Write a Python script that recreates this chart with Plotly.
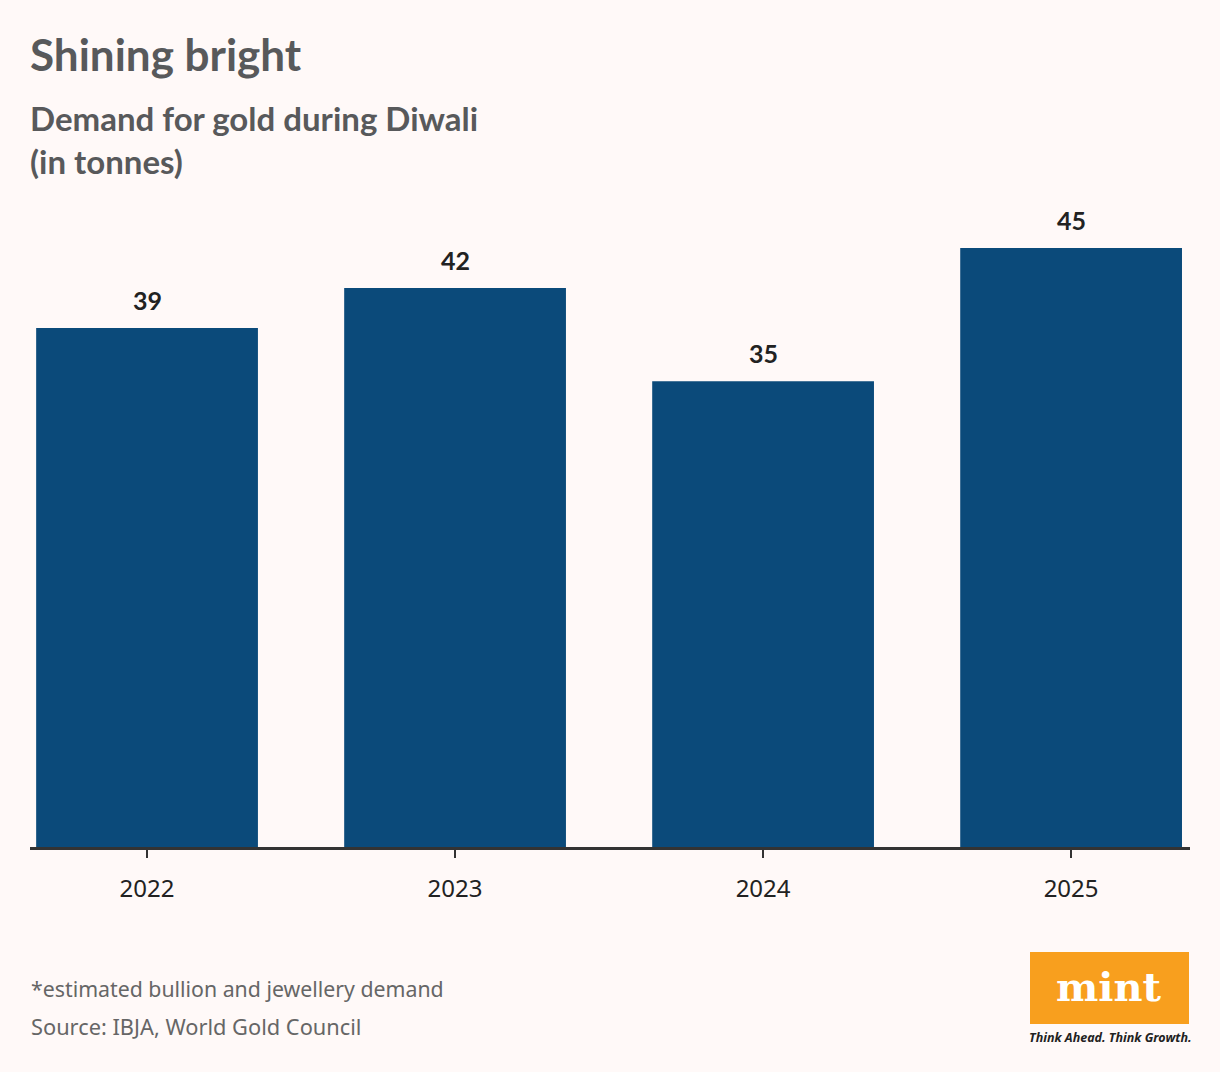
import plotly.graph_objects as go

years = ["2022", "2023", "2024", "2025"]
demand = [39, 42, 35, 45]

W, H = 1220, 1072
L, R, T, B = 30, 30, 200, 225
PW, PH = W - L - R, H - T - B

def px(xp):
    return (xp - L) / PW

def py(yp):
    return (H - B - yp) / PH

BG = "#FFF9F8"
BAR = "#0B4A7A"

fig = go.Figure()
fig.add_trace(go.Bar(
    x=years, y=demand, width=0.72, marker=dict(color=BAR, line=dict(width=0)),
    hoverinfo="skip",
))

annotations = []
for i, v in enumerate(demand):
    annotations.append(dict(
        x=i, y=v, xref="x", yref="y", text="<b>%d</b>" % v, showarrow=False,
        yanchor="middle", yshift=28,
        font=dict(family="Lato", size=25, color="#222222"),
    ))

annotations += [
    dict(x=px(28), y=py(54), xref="paper", yref="paper", xanchor="left", yanchor="middle",
         text="<b>Shining bright</b>", showarrow=False,
         font=dict(family="Lato", size=44, color="#58595B")),
    dict(x=px(28), y=py(140), xref="paper", yref="paper", xanchor="left", yanchor="middle",
         text="<b>Demand for gold during Diwali<br>(in tonnes)</b>", showarrow=False, align="left",
         font=dict(family="Lato", size=33, color="#58595B")),
    dict(x=px(29), y=py(988), xref="paper", yref="paper", xanchor="left", yanchor="middle",
         text="*estimated bullion and jewellery demand", showarrow=False,
         font=dict(family="Noto Sans", size=21.3, color="#666666")),
    dict(x=px(29), y=py(1026), xref="paper", yref="paper", xanchor="left", yanchor="middle",
         text="Source: IBJA, World Gold Council", showarrow=False,
         font=dict(family="Noto Sans", size=21.8, color="#666666")),
    dict(x=px(1109), y=py(986), xref="paper", yref="paper", xanchor="center", yanchor="middle",
         text="<b>mint</b>", showarrow=False,
         font=dict(family="DejaVu Serif", size=40, color="#FFFFFF")),
    dict(x=px(1110), y=py(1037), xref="paper", yref="paper", xanchor="center", yanchor="middle",
         text="<b><i>Think Ahead. Think Growth.</i></b>", showarrow=False,
         font=dict(family="Noto Sans", size=12.5, color="#222222")),
]

fig.update_layout(
    width=W, height=H,
    margin=dict(l=L, r=R, t=T, b=B, pad=0),
    paper_bgcolor=BG, plot_bgcolor=BG,
    showlegend=False,
    annotations=annotations,
    shapes=[dict(type="rect", xref="paper", yref="paper",
                 x0=px(1030), x1=px(1189), y0=py(1024), y1=py(952),
                 fillcolor="#F89F1E", line=dict(width=0), layer="above")],
    xaxis=dict(
        type="category", range=[-0.38, 3.386], showgrid=False, zeroline=False,
        showline=True, linecolor="#333333", linewidth=3,
        ticks="outside", ticklen=8, tickwidth=2, tickcolor="#333333",
        tickfont=dict(family="Noto Sans", size=24, color="#222222"),
        ticklabelstandoff=10, fixedrange=True,
    ),
    yaxis=dict(visible=False, range=[0, PH / 13.31], fixedrange=True),
)

fig.write_html(
    "out.html",
    config={"displayModeBar": False},
    post_script="document.body.style.margin='0';document.body.style.padding='0';",
)
